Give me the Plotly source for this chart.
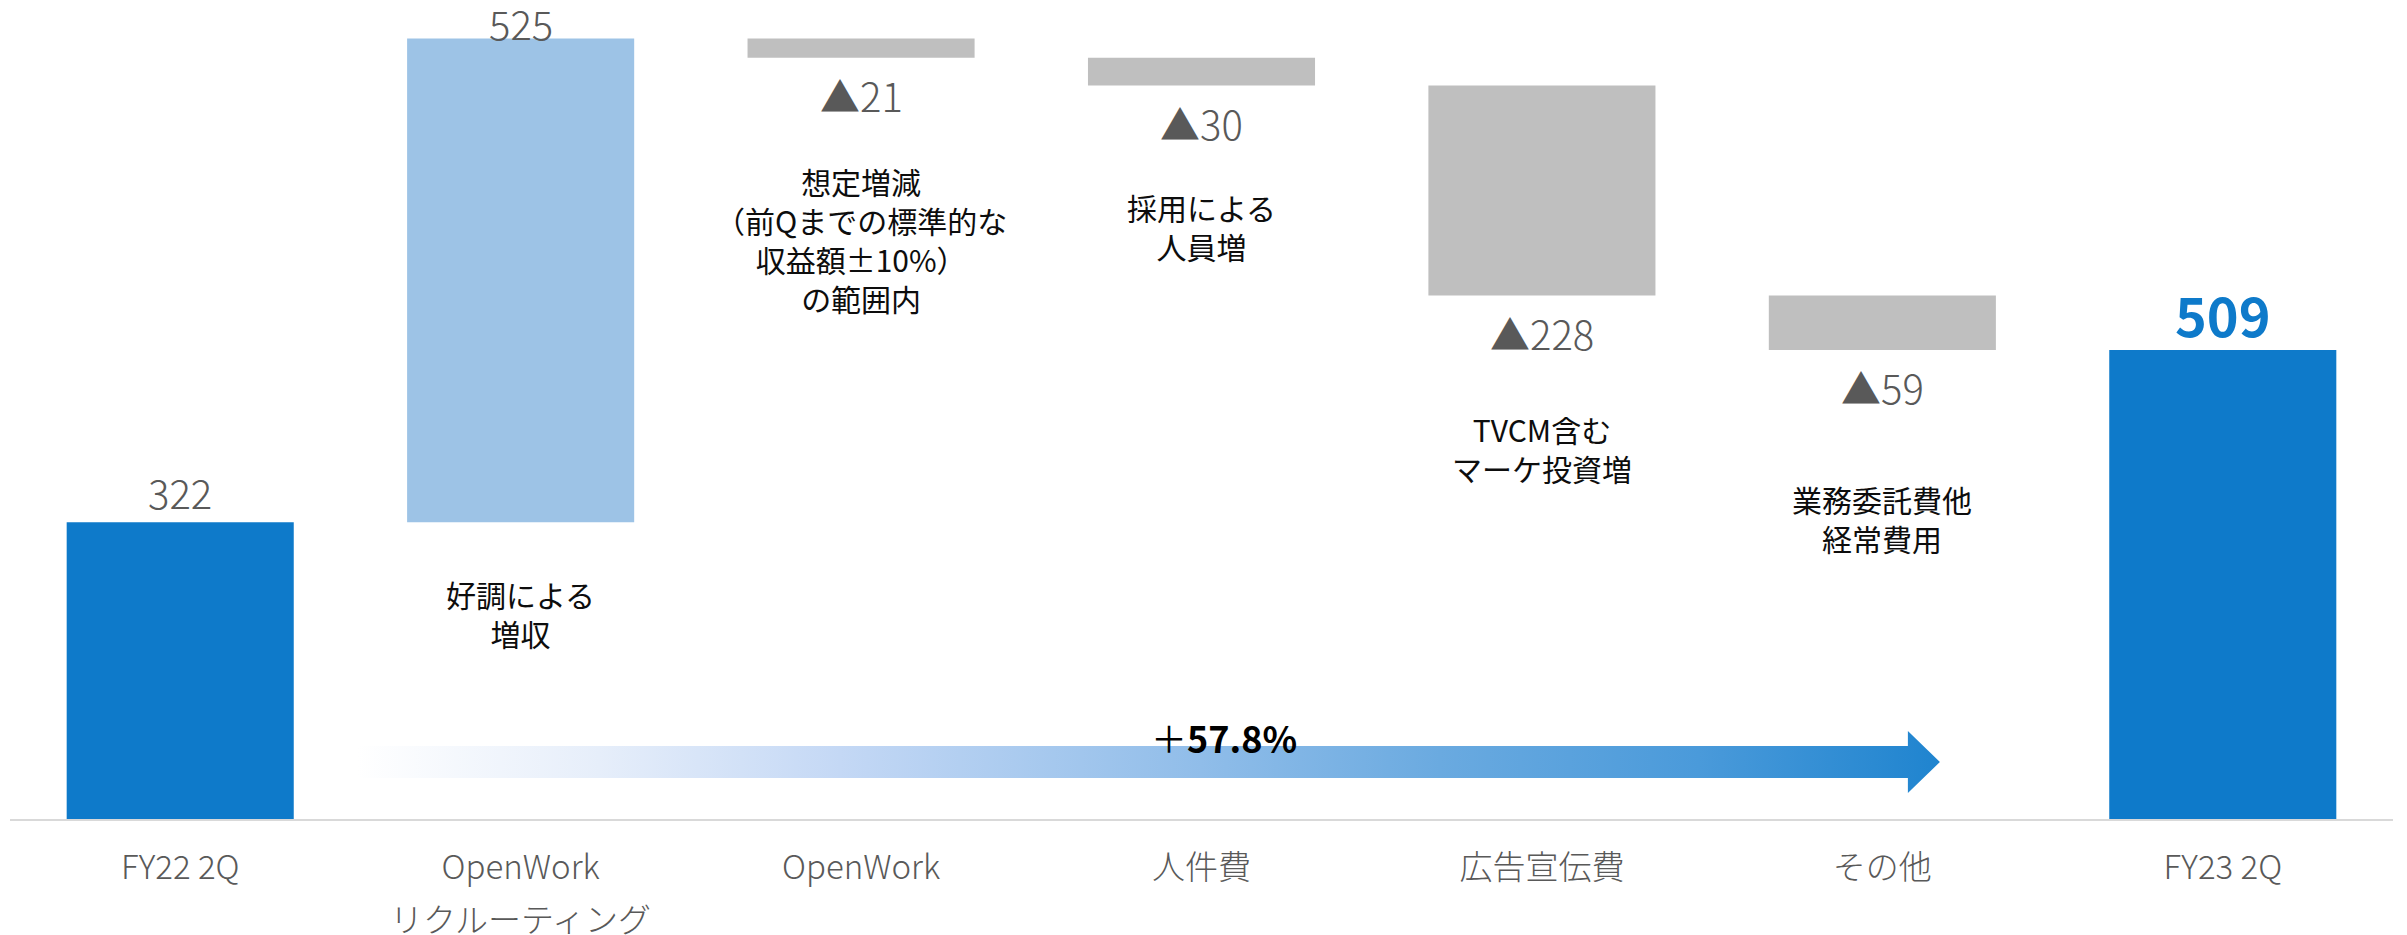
import plotly.graph_objects as go

# ---------------- data ----------------
categories = ["FY22 2Q", "OpenWork<br>リクルーティング", "OpenWork", "人件費", "広告宣伝費", "その他", "FY23 2Q"]
measures = ["absolute", "relative", "relative", "relative", "relative", "relative", "absolute"]
values = [322, 525, -21, -30, -228, -59, 509]
notes = ["", "好調による<br>増収", "想定増減<br>（前Qまでの標準的な<br>収益額±10%）<br>の範囲内",
         "採用による<br>人員増", "TVCM含む<br>マーケ投資増", "業務委託費他<br>経常費用", ""]
growth_label = "＋<b>57.8%</b>"

# ---------------- styles ----------------
FONT = "Noto Sans CJK JP"
BLUE = "#0E7ACA"
LIGHT_BLUE = "#9DC3E6"
GRAY = "#BFBFBF"
LABEL_GRAY = "#595959"

# waterfall bases
bases, ends, colors = [], [], []
running = 0
for m, v in zip(measures, values):
    if m == "absolute":
        bases.append(0)
        running = v
        colors.append(BLUE)
    else:
        bases.append(running)
        running += v
        colors.append(LIGHT_BLUE if v > 0 else GRAY)
    ends.append(bases[-1] + v)

labels = [str(v) if v > 0 else "▲" + str(abs(v)) for v in values]
tick_first = [c.split("<br>")[0] for c in categories]
tick_second = [c.split("<br>")[1] if "<br>" in c else "" for c in categories]

fig = go.Figure()
fig.add_trace(go.Bar(
    x=categories, y=values, base=bases,
    marker=dict(color=colors, line=dict(width=0)),
    width=0.667, hoverinfo="skip", showlegend=False,
))

# growth arrow (decoration) on an overlay x axis matching category index
ax0, body_end, tip = 0.520, 5.075, 5.169
b_top, b_bot, h_top, h_bot, mid = 79.2, 44.5, 95.5, 28.2, 61.8
fig.add_trace(go.Scatter(
    x=[ax0, body_end, body_end, tip, body_end, body_end, ax0, ax0],
    y=[b_top, b_top, h_top, mid, h_bot, b_bot, b_bot, b_top],
    xaxis="x2", yaxis="y", mode="lines", line=dict(width=0),
    fill="toself",
    fillgradient=dict(type="horizontal", colorscale=[
        [0.0, "#FFFFFF"], [0.153, "#E6EEFA"], [0.305, "#C4D8F5"], [0.533, "#90BDE9"],
        [0.684, "#6AAAE0"], [0.848, "#4A9ADA"], [1.0, "#1F84CF"]]),
    hoverinfo="skip", showlegend=False,
))

annotations = []
label_shift = [30, 15, -37, -38, -37, -37, 36]
for i, (c, v, e, lab) in enumerate(zip(categories, values, ends, labels)):
    is_last = i == len(categories) - 1
    annotations.append(dict(
        x=c, y=e, xref="x", yref="y", text=("<b>%s</b>" % lab) if is_last else lab,
        showarrow=False, yanchor="middle", yshift=label_shift[i],
        font=dict(family=FONT, size=54 if is_last else 40,
                  color=BLUE if is_last else LABEL_GRAY, weight=700 if is_last else 300),
    ))

note_shift = [0, -91, -182, -141, -153, -169, 0]
for i, (c, n, b, e) in enumerate(zip(categories, notes, bases, ends)):
    if not n:
        continue
    annotations.append(dict(
        x=c, y=min(b, e), xref="x", yref="y", text=n, showarrow=False,
        yanchor="middle", yshift=note_shift[i], align="center",
        font=dict(family=FONT, size=30, color="#0D0D0D"),
    ))

# second line of multi-line category labels
for c, s in zip(categories, tick_second):
    if s:
        annotations.append(dict(
            x=c, y=0, xref="x", yref="paper", text=s, showarrow=False,
            yanchor="middle", yshift=-99,
            font=dict(family=FONT, size=33, color=LABEL_GRAY, weight=300),
        ))

annotations.append(dict(
    x=3.066, y=mid, xref="x2", yref="y", text=growth_label, showarrow=False,
    yanchor="middle", yshift=25, font=dict(family=FONT, size=36, color="#000000"),
))

# note: the page body adds an 8px offset, so the figure is 8px smaller
fig.update_layout(
    width=2399, height=927,
    margin=dict(l=2, r=14, t=0, b=116),
    plot_bgcolor="white", paper_bgcolor="white",
    bargap=0.33,
    xaxis=dict(type="category", showline=True, linecolor="#D9D9D9", linewidth=2,
               showgrid=False, zeroline=False, ticks="", ticklabelstandoff=18,
               tickmode="array", tickvals=categories, ticktext=tick_first,
               tickfont=dict(family=FONT, size=33, color=LABEL_GRAY, weight=300)),
    xaxis2=dict(overlaying="x", range=[-0.5, 6.5], visible=False),
    yaxis=dict(range=[0, 880], visible=False, showgrid=False, zeroline=False),
    annotations=annotations,
)

fig.write_html("out.html")
